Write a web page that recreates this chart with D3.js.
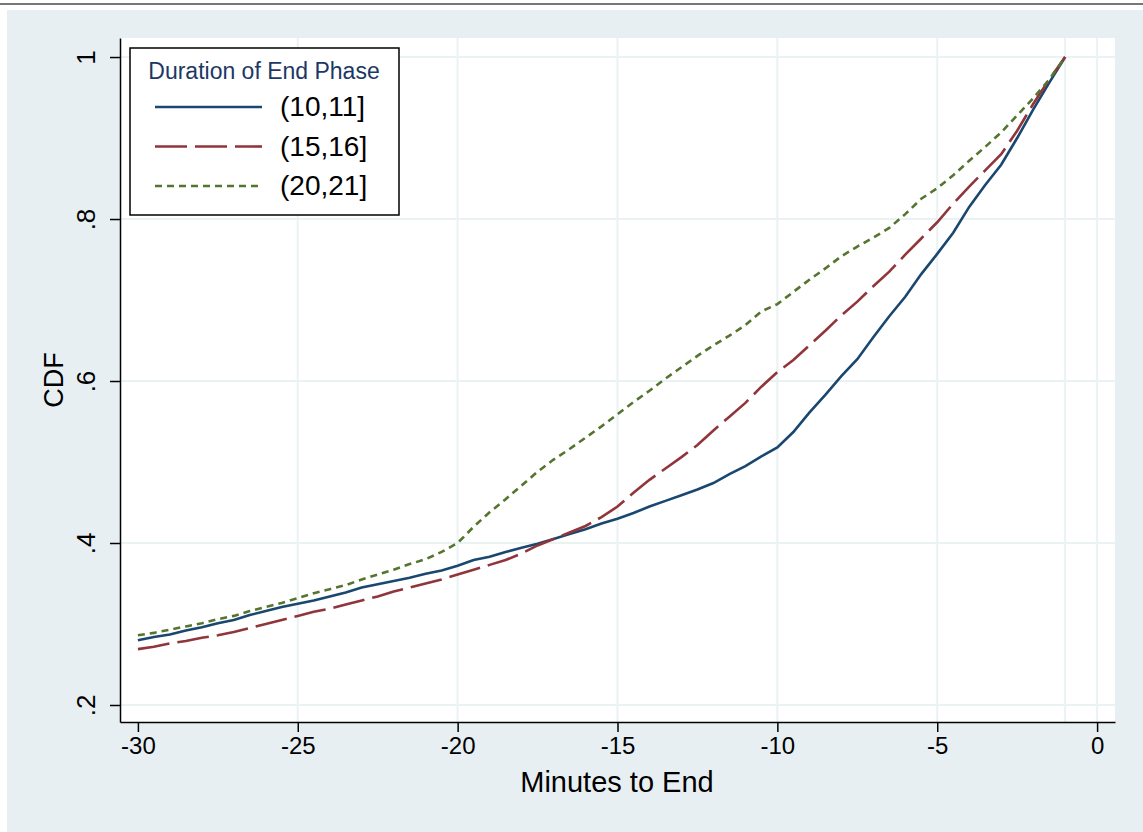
<!DOCTYPE html>
<html lang="en">
<head>
  <meta charset="UTF-8">
  <title>CDF by Duration of End Phase</title>
  <script src="https://d3js.org/d3.v7.min.js"></script>
  <style>
    body { margin: 0; background: #fff; }
    text { font-family: "Liberation Sans", Arial, sans-serif; fill: #000; }
  </style>
</head>
<body>
  <div id="chart"></div>
  <script>
    // minutes to end (x) and the three CDF series
    const minutes = [-30, -29.5, -29, -28.5, -28, -27.5, -27, -26.5, -26, -25.5, -25, -24.5, -24, -23.5, -23,
      -22.5, -22, -21.5, -21, -20.5, -20, -19.5, -19, -18.5, -18, -17.5, -17, -16.5, -16, -15.5, -15,
      -14.5, -14, -13.5, -13, -12.5, -12, -11.5, -11, -10.5, -10, -9.5, -9, -8.5, -8, -7.5, -7,
      -6.5, -6, -5.5, -5, -4.5, -4, -3.5, -3, -2.5, -2, -1.5, -1];

    const cdf10 = [0.280, 0.284, 0.287, 0.292, 0.296, 0.301, 0.305, 0.311, 0.316, 0.321, 0.325, 0.329, 0.334, 0.339, 0.345,
      0.349, 0.353, 0.357, 0.362, 0.366, 0.372, 0.379, 0.383, 0.389, 0.394, 0.399, 0.405, 0.411, 0.417, 0.424, 0.430,
      0.437, 0.445, 0.452, 0.459, 0.466, 0.474, 0.485, 0.495, 0.507, 0.518, 0.537, 0.561, 0.583, 0.606, 0.627, 0.654,
      0.680, 0.704, 0.732, 0.757, 0.783, 0.815, 0.842, 0.867, 0.900, 0.935, 0.968, 1.0];

    const cdf15 = [0.269, 0.272, 0.276, 0.279, 0.283, 0.286, 0.290, 0.295, 0.300, 0.305, 0.310, 0.315, 0.319, 0.324, 0.329,
      0.334, 0.340, 0.345, 0.350, 0.355, 0.361, 0.367, 0.373, 0.379, 0.387, 0.397, 0.405, 0.413, 0.421, 0.432, 0.445,
      0.462, 0.478, 0.492, 0.506, 0.521, 0.539, 0.556, 0.573, 0.593, 0.611, 0.626, 0.644, 0.662, 0.681, 0.698, 0.717,
      0.735, 0.756, 0.776, 0.796, 0.819, 0.840, 0.860, 0.880, 0.909, 0.942, 0.972, 1.0];

    const cdf20 = [0.286, 0.289, 0.293, 0.297, 0.301, 0.306, 0.310, 0.316, 0.321, 0.326, 0.332, 0.338, 0.343, 0.348, 0.355,
      0.361, 0.367, 0.374, 0.380, 0.389, 0.400, 0.420, 0.438, 0.454, 0.471, 0.488, 0.503, 0.516, 0.530, 0.544, 0.559,
      0.574, 0.588, 0.603, 0.617, 0.631, 0.644, 0.656, 0.669, 0.686, 0.695, 0.710, 0.725, 0.739, 0.754, 0.766, 0.777,
      0.789, 0.806, 0.825, 0.838, 0.854, 0.872, 0.889, 0.907, 0.928, 0.949, 0.972, 1.0];

    const seriesLabels = ["(10,11]", "(15,16]", "(20,21]"];
    const xTicks = [-30, -25, -20, -15, -10, -5, 0];
    const xGrid = [-25, -20, -15, -10, -5, -1, 0];
    const yTicks = [0.2, 0.4, 0.6, 0.8, 1];

    const W = 1143, H = 832;
    const plot = { left: 120, right: 1115, top: 38, bottom: 722 };

    const svg = d3.select("#chart").append("svg")
      .attr("width", W)
      .attr("height", H);

    // page background and the thin rule on top
    svg.append("rect").attr("width", W).attr("height", H).attr("fill", "#fff");
    svg.append("line")
      .attr("x1", 0).attr("x2", W).attr("y1", 4).attr("y2", 4)
      .attr("stroke", "#4a4a4a").attr("stroke-width", 1.5);
    svg.append("rect")
      .attr("x", 7).attr("y", 10)
      .attr("width", W - 7).attr("height", H - 10)
      .attr("fill", "#e8eff2");
    svg.append("rect")
      .attr("x", plot.left).attr("y", plot.top)
      .attr("width", plot.right - plot.left).attr("height", plot.bottom - plot.top)
      .attr("fill", "#fff");

    const x = d3.scaleLinear().domain([-30.56, 0.56]).range([plot.left, plot.right]);
    const y = d3.scaleLinear().domain([0.179, 1.0235]).range([plot.bottom, plot.top]);

    // grid lines
    svg.append("g").selectAll("line").data(yTicks).join("line")
      .attr("x1", plot.left).attr("x2", plot.right)
      .attr("y1", d => y(d)).attr("y2", d => y(d))
      .attr("stroke", "#eaf2f3").attr("stroke-width", 2);
    svg.append("g").selectAll("line").data(xGrid).join("line")
      .attr("y1", plot.top).attr("y2", plot.bottom)
      .attr("x1", d => x(d)).attr("x2", d => x(d))
      .attr("stroke", "#eaf2f3").attr("stroke-width", 2);

    // axes (plain hyphen for negatives, Stata style ".8" labels)
    const xAxis = svg.append("g")
      .attr("transform", `translate(0,${plot.bottom})`)
      .call(d3.axisBottom(x).tickValues(xTicks).tickSize(10).tickSizeOuter(0).tickPadding(5)
        .tickFormat(d => String(d)));
    xAxis.selectAll("text").style("font-size", "24px");

    const yAxis = svg.append("g")
      .attr("transform", `translate(${plot.left},0)`)
      .call(d3.axisLeft(y).tickValues(yTicks).tickSize(10).tickSizeOuter(0)
        .tickFormat(d => d === 1 ? "1" : d3.format(".1f")(d).replace(/^0/, "")));
    yAxis.selectAll("text")
      .style("font-size", "26px")
      .attr("text-anchor", "middle")
      .attr("x", 0).attr("dy", 0)
      .attr("transform", "translate(-32,0) rotate(-90)")
      .attr("y", 0)
      .attr("dominant-baseline", "middle");

    [xAxis, yAxis].forEach(a => {
      a.select(".domain").attr("stroke", "#000").attr("stroke-width", 1.5);
      a.selectAll(".tick line").attr("stroke", "#000").attr("stroke-width", 1.5);
    });

    // axis titles
    svg.append("text")
      .attr("x", 617).attr("y", 792)
      .attr("text-anchor", "middle")
      .style("font-size", "29px")
      .text("Minutes to End");
    svg.append("text")
      .attr("transform", "translate(63,380) rotate(-90)")
      .attr("text-anchor", "middle")
      .style("font-size", "27px")
      .text("CDF");

    // the three CDF lines
    const series = [
      { values: cdf10, color: "#1a476f", dash: null },
      { values: cdf15, color: "#90353b", dash: "32,8" },
      { values: cdf20, color: "#55752f", dash: "7,5" }
    ];

    const line = d3.line()
      .x((d, i) => x(minutes[i]))
      .y(d => y(d));

    series.forEach(s => {
      svg.append("path")
        .datum(s.values)
        .attr("fill", "none")
        .attr("stroke", s.color)
        .attr("stroke-width", 2.6)
        .attr("stroke-dasharray", s.dash)
        .attr("d", line);
    });

    // legend box
    const legend = svg.append("g").attr("transform", "translate(130,48)");
    legend.append("rect")
      .attr("width", 269).attr("height", 167)
      .attr("fill", "#fff").attr("stroke", "#000").attr("stroke-width", 1.5);
    legend.append("text")
      .attr("x", 134).attr("y", 31)
      .attr("text-anchor", "middle")
      .style("font-size", "23px")
      .style("fill", "#1c3864")
      .text("Duration of End Phase");

    series.forEach((s, i) => {
      const ly = 59 + i * 39.5;
      legend.append("line")
        .attr("x1", 25).attr("x2", 132)
        .attr("y1", ly).attr("y2", ly)
        .attr("stroke", s.color)
        .attr("stroke-width", 2.6)
        .attr("stroke-dasharray", s.dash);
      legend.append("text")
        .attr("x", 150).attr("y", ly + 9)
        .style("font-size", "28px")
        .text(seriesLabels[i]);
    });
  </script>
</body>
</html>
